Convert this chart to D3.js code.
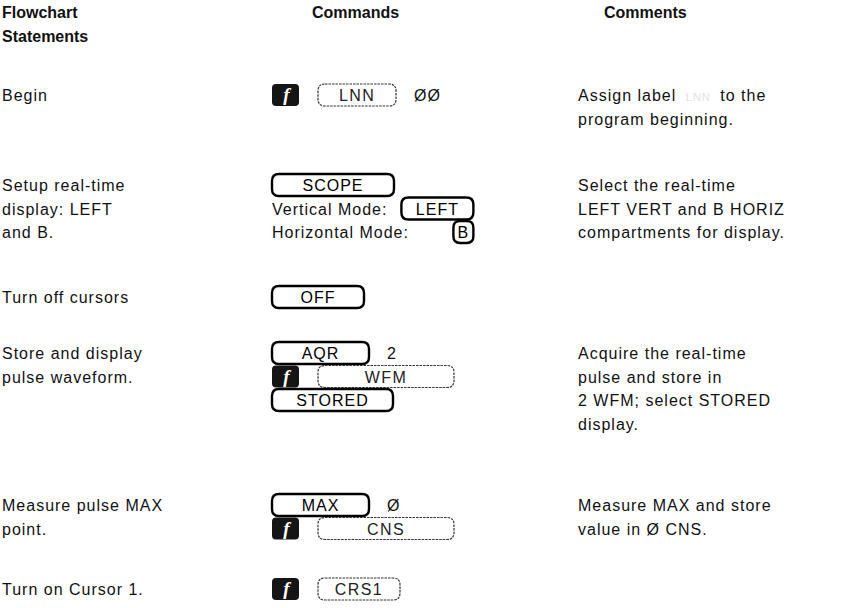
<!DOCTYPE html>
<html><head><meta charset="utf-8">
<script src="https://cdn.jsdelivr.net/npm/d3@7"></script>
<style>
html,body{margin:0;padding:0;background:#fff;}
svg{display:block;}
</style></head><body>
<svg id="chart" width="841" height="608"></svg>
<script>
// ---------------- data ----------------
const headerLines = [["Flowchart", "Statements"], ["Commands"], ["Comments"]];
const steps = ["begin", "setup", "cursorsOff", "store", "measure", "cursor1"];
const statements = [
  ["Begin"],
  ["Setup real-time", "display: LEFT", "and B."],
  ["Turn off cursors"],
  ["Store and display", "pulse waveform."],
  ["Measure pulse MAX", "point."],
  ["Turn on Cursor 1."]
];
// command tokens: "f" = shift key, "key" = front-panel key, "shift" = shifted function label, "text" = plain text
const commands = [
  [[{k: "f"}, {k: "shift", t: "LNN"}, {k: "text", t: "ØØ"}]],
  [[{k: "key", t: "SCOPE"}],
   [{k: "text", t: "Vertical Mode:"}, {k: "key", t: "LEFT"}],
   [{k: "text", t: "Horizontal Mode:"}, {k: "key", t: "B"}]],
  [[{k: "key", t: "OFF"}]],
  [[{k: "key", t: "AQR"}, {k: "text", t: "2"}],
   [{k: "f"}, {k: "shift", t: "WFM"}],
   [{k: "key", t: "STORED"}]],
  [[{k: "key", t: "MAX"}, {k: "text", t: "Ø"}],
   [{k: "f"}, {k: "shift", t: "CNS"}]],
  [[{k: "f"}, {k: "shift", t: "CRS1"}]]
];
const comments = [
  [["Assign label ", "LNN", " to the"], ["program beginning."]],
  [["Select the real-time"], ["LEFT VERT and B HORIZ"], ["compartments for display."]],
  [],
  [["Acquire the real-time"], ["pulse and store in"], ["2 WFM; select STORED"], ["display."]],
  [["Measure MAX and store"], ["value in Ø CNS."]],
  []
];

// ---------------- layout / style ----------------
const W = 841, H = 608;
const colX = d3.scaleOrdinal().domain([0, 1, 2]).range([2, 272, 578]);
const headX = d3.scaleOrdinal().domain([0, 1, 2]).range([2, 312, 604]);
const rowY = d3.scaleOrdinal().domain(steps).range([95, 185, 297, 353, 505, 589]);
const lineH = 23.5;
const headY = d3.scaleLinear().domain([0, 1]).range([12, 36]);
const FONT = "'Liberation Sans', Arial, Helvetica, sans-serif";
const FS = 16, LS = 1.0;
const keyW = {LNN: 78, SCOPE: 122, LEFT: 72, B: 20, OFF: 92, AQR: 97, WFM: 136, STORED: 121, MAX: 97, CNS: 136, CRS1: 82};
const keyH = 22, fW = 27;
const gapAfter = {f: 19, key: 18, shift: 18, text: 14};

const svg = d3.select("#chart").attr("viewBox", `0 0 ${W} ${H}`);
svg.append("rect").attr("width", W).attr("height", H).attr("fill", "#fff");

const meas = svg.append("text").attr("font-family", FONT).attr("font-size", FS)
  .attr("letter-spacing", LS).attr("visibility", "hidden");
function textW(t) { meas.text(t); return meas.node().getComputedTextLength(); }

// headers
headerLines.forEach((lines, c) => {
  svg.append("g").selectAll("text").data(lines).join("text")
    .attr("x", headX(c)).attr("y", (d, i) => headY(i) + 6)
    .attr("font-family", FONT).attr("font-size", FS).attr("font-weight", "bold")
    .attr("fill", "#111").text(d => d);
});

// statements column
statements.forEach((lines, r) => {
  svg.append("g").selectAll("text").data(lines).join("text")
    .attr("x", colX(0)).attr("y", (d, i) => rowY(steps[r]) + i * lineH + 6)
    .attr("font-family", FONT).attr("font-size", FS).attr("letter-spacing", LS)
    .attr("fill", "#111").text(d => d);
});

// comments column
comments.forEach((lines, r) => {
  const g = svg.append("g");
  lines.forEach((parts, i) => {
    const t = g.append("text").attr("x", colX(2)).attr("y", rowY(steps[r]) + i * lineH + 6)
      .attr("font-family", FONT).attr("font-size", FS).attr("letter-spacing", LS).attr("fill", "#111")
      .style("white-space", "pre");
    parts.forEach((p, j) => {
      const isFaint = parts.length === 3 && j === 1;
      t.append("tspan").text(isFaint ? " " + p + " " : p)
        .attr("fill", isFaint ? "#e2e2e2" : "#111")
        .attr("font-size", isFaint ? 11 : FS);
    });
  });
});

function keyPath(x, y, w, h) {
  const r = Math.min(7, w / 3);
  return `M${x + r},${y} H${x + w - r} Q${x + w},${y} ${x + w},${y + r} V${y + h - r} Q${x + w},${y + h} ${x + w - r},${y + h} H${x + r} Q${x},${y + h} ${x},${y + h - r} V${y + r} Q${x},${y} ${x + r},${y} Z`;
}

function drawKey(g, tk, x, cy) {
  const w = keyW[tk.t];
  const solid = tk.k === "key";
  g.append("path").attr("d", keyPath(x, cy - keyH / 2, w, keyH))
    .attr("fill", "none").attr("stroke", solid ? "#000" : "#333")
    .attr("stroke-width", solid ? 2.4 : 1.2)
    .attr("stroke-dasharray", solid ? null : "2.5,1");
  g.append("text").attr("x", x + w / 2).attr("y", cy + 6)
    .attr("text-anchor", "middle").attr("font-family", FONT).attr("font-size", FS)
    .attr("letter-spacing", solid ? LS : 1.4).attr("fill", solid ? "#000" : "#222")
    .text(tk.t);
  return w;
}

// commands column
commands.forEach((lines, r) => {
  const g = svg.append("g");
  // lines of the form "label: [KEY]" share a tab: their keys end at one right edge
  const labelled = lines.filter(tk => tk.length === 2 && tk[0].k === "text" && tk[1].k === "key");
  const tabRight = labelled.length
    ? d3.max(labelled, tk => colX(1) + textW(tk[0].t) + gapAfter.text + keyW[tk[1].t])
    : null;
  lines.forEach((tokens, i) => {
    const cy = rowY(steps[r]) + i * lineH;
    let x = colX(1);
    tokens.forEach((tk, j) => {
      const next = tokens[j + 1];
      if (tk.k === "f") {
        g.append("rect").attr("x", x).attr("y", cy - keyH / 2).attr("width", fW).attr("height", keyH)
          .attr("rx", 4).attr("fill", "#151515");
        g.append("text").attr("x", x + fW / 2 + 1).attr("y", cy + 6)
          .attr("text-anchor", "middle").attr("font-family", "'Liberation Serif', serif")
          .attr("font-style", "italic").attr("font-weight", "bold").attr("font-size", 19)
          .attr("fill", "#fff").text("f");
        x += fW + gapAfter.f;
      } else if (tk.k === "key" || tk.k === "shift") {
        const inTab = labelled.includes(tokens) && tabRight !== null;
        const kx = inTab ? tabRight - keyW[tk.t] : x;
        const w = drawKey(g, tk, kx, cy);
        x = kx + w + (next ? gapAfter[tk.k] : 0);
      } else {
        g.append("text").attr("x", x).attr("y", cy + 6)
          .attr("font-family", FONT).attr("font-size", FS).attr("letter-spacing", LS)
          .attr("fill", "#111").text(tk.t);
        x += textW(tk.t) + (next && next.k !== "text" ? gapAfter.text : 6);
      }
    });
  });
});
meas.remove();
</script>
</body></html>
